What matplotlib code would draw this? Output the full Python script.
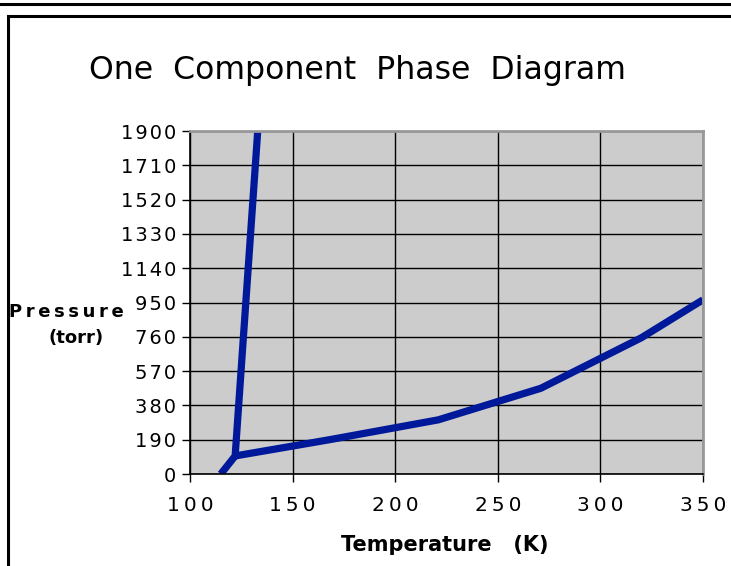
import matplotlib
matplotlib.use("Agg")
import matplotlib.pyplot as plt
from matplotlib.lines import Line2D

# Data
solid_liquid_T = [115, 122, 133]
solid_liquid_P = [0, 100, 1900]
liquid_gas_T = [122, 168, 221, 271, 320, 350]
liquid_gas_P = [100, 190, 300, 475, 755, 965]

x_ticks = [100, 150, 200, 250, 300, 350]
y_ticks = [0, 190, 380, 570, 760, 950, 1140, 1330, 1520, 1710, 1900]

title = "One  Component  Phase  Diagram"
xlabel = "Temperature   (K)"
ylabel_1 = "\u2009".join("Pressure")
ylabel_2 = "(torr)"

W, H = 731, 566
fig = plt.figure(figsize=(W / 100, H / 100), dpi=100)
fig.patch.set_facecolor("white")

# decorative frame lines
fig.add_artist(Line2D([0, 1], [1 - 4 / H, 1 - 4 / H], color="black", lw=2.2, transform=fig.transFigure))
fig.add_artist(Line2D([8 / W, 8 / W, 1.0], [0, 1 - 15.5 / H, 1 - 15.5 / H], color="black", lw=2.2,
                      transform=fig.transFigure, solid_joinstyle="miter"))

ax = fig.add_axes([190 / W, (H - 474) / H, (703 - 190) / W, (474 - 131) / H])
ax.set_facecolor("#cccccc")
ax.set_xlim(100, 350)
ax.set_ylim(0, 1900)
ax.set_xticks(x_ticks)
ax.set_yticks(y_ticks)
ax.set_xticklabels(["\u2009".join(str(v)) for v in x_ticks], fontsize=14.5)
ax.set_yticklabels(["\u200a".join(str(v)) for v in y_ticks], fontsize=14)
ax.grid(True, color="black", lw=1.0)
ax.set_axisbelow(True)
ax.tick_params(axis="both", direction="out", length=6, width=1, color="black", pad=4)
ax.tick_params(axis="x", pad=10)
for s in ["left", "bottom"]:
    ax.spines[s].set_color("black")
    ax.spines[s].set_linewidth(1.2)
for s in ["top", "right"]:
    ax.spines[s].set_color("#999999")
    ax.spines[s].set_linewidth(2)

line_color = "#00189a"
ax.plot(solid_liquid_T, solid_liquid_P, color=line_color, lw=5.2, solid_joinstyle="miter",
        solid_capstyle="butt", clip_on=True)
ax.plot(liquid_gas_T, liquid_gas_P, color=line_color, lw=5.2, solid_joinstyle="miter",
        solid_capstyle="butt", clip_on=True)

fig.text(357 / W, 1 - 71 / H, title, fontsize=22.7, ha="center", va="center")
fig.text(445 / W, 1 - 545 / H, xlabel, fontsize=15, fontweight="bold", ha="center", va="center")
fig.text(66 / W, 1 - 312 / H, ylabel_1, fontsize=13, fontweight="bold", ha="center", va="center")
fig.text(76 / W, 1 - 338 / H, ylabel_2, fontsize=13, fontweight="bold", ha="center", va="center")

fig.savefig("out.png", dpi=100)
